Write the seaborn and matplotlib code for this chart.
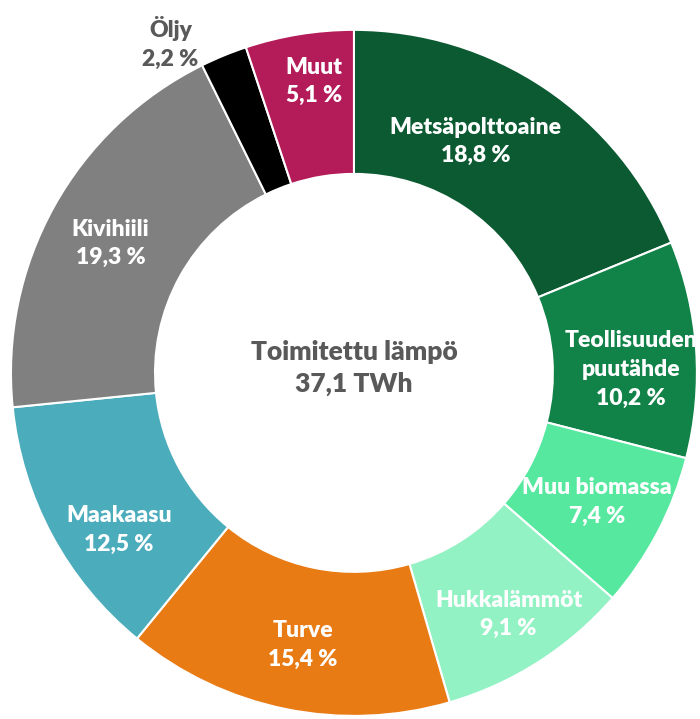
import numpy as np
import matplotlib
matplotlib.use("Agg")
import matplotlib.pyplot as plt
import seaborn as sns

# ── Data ──────────────────────────────────────────────────────────────────────
labels = ["Metsäpolttoaine", "Teollisuuden\npuutähde", "Muu biomassa", "Hukkalämmöt",
          "Turve", "Maakaasu", "Kivihiili", "Öljy", "Muut"]
shares = [18.8, 10.2, 7.4, 9.1, 15.4, 12.5, 19.3, 2.2, 5.1]
colors = ["#0B5A32", "#118248", "#57E8A0", "#92F2C4", "#E97B14",
          "#4BACBC", "#808080", "#000000", "#B31B59"]
center_title = "Toimitettu lämpö"
center_value = "37,1 TWh"

# label nudges (dx, dy) from the default mid-ring position
nudges = [(-0.09, 0.01), (0.01, -0.045), (0.0, -0.005), (0.02, -0.03), (0.01, -0.01),
          (0.02, -0.08), (-0.01, -0.01), (-0.11, -0.075), (0.01, 0.06)]

sns.set_theme(style="white")
plt.rcParams["font.family"] = ["Lato", "DejaVu Sans"]

fig = plt.figure(figsize=(7.0, 7.19), dpi=100)
ax = fig.add_axes([0, 0, 1, 1])

wedges, _ = ax.pie(shares, colors=colors, startangle=90, counterclock=False,
                   radius=1.0, wedgeprops=dict(width=0.42, edgecolor="white", linewidth=1.5))

cum = np.cumsum([0] + shares[:-1])
for lab, val, c0, (dx, dy) in zip(labels, shares, cum, nudges):
    mid = np.deg2rad(90 - 3.6 * (c0 + val / 2))
    txt = f"{lab}\n{val:.1f} %".replace(".", ",")
    if lab == "Öljy":
        r, col = 1.12, "#595959"
    else:
        r, col = 0.8, "white"
    x, y = r * np.cos(mid) + dx, r * np.sin(mid) + dy
    ax.text(x, y, txt, ha="center", va="center", color=col, fontsize=16.5,
            fontweight="heavy", linespacing=1.45)

ax.text(0, 0.015, f"{center_title}\n{center_value}", ha="center", va="center",
        color="#595959", fontsize=19, fontweight="heavy", linespacing=1.4)

ax.set_xlim(-1.032, 1.009)
ax.set_ylim(-1.009, 1.087)
ax.set_aspect("auto")
ax.axis("off")

plt.savefig("out.png", dpi=100)
plt.close()
